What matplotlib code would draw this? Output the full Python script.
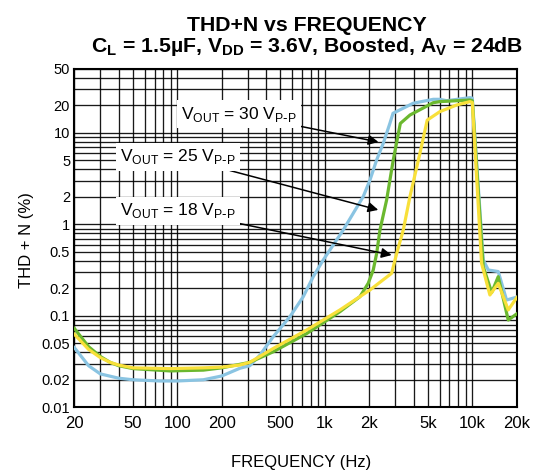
import numpy as np
import matplotlib
matplotlib.use("Agg")
from matplotlib import pyplot as plt
from matplotlib.ticker import FixedLocator, NullFormatter, LogLocator

plt.rcParams['font.family'] = ['Liberation Sans', 'DejaVu Sans']

# frequency (Hz) / THD+N (%)
freq_30 = [20, 25, 30, 40, 50, 76, 100, 150, 200, 265, 310, 363, 447, 580, 714, 834, 975,
           1333, 1820, 2024, 2245, 2490, 2760, 2900, 3970, 5430, 6030, 6700, 9640, 10000,
           11860, 12830, 14990, 17070, 20000]
thd_30 = [0.045, 0.0285, 0.0232, 0.0208, 0.020, 0.0194, 0.0194, 0.020, 0.022, 0.0267, 0.0285,
          0.0373, 0.0592, 0.098, 0.162, 0.268, 0.408, 0.868, 2.01, 3.06, 5.06, 7.7, 12.7,
          16.4, 21.1, 23.3, 23.3, 22.5, 24.3, 24.0, 0.41, 0.317, 0.305, 0.149, 0.16]

freq_25 = [20, 25, 30, 35, 40, 50, 89, 150, 200, 265, 310, 447, 753, 1265, 1730, 1969, 2129,
           2245, 2365, 2624, 2910, 3250, 3780, 5430, 6030, 9640, 10000, 11860, 13530,
           14990, 17520, 20000]
thd_25 = [0.073, 0.046, 0.036, 0.031, 0.0285, 0.0265, 0.025, 0.0255, 0.027, 0.0295, 0.031,
          0.0405, 0.064, 0.111, 0.162, 0.227, 0.317, 0.48, 0.87, 1.85, 5.06, 12.7, 15.7,
          21.4, 22.0, 22.9, 22.5, 0.345, 0.18, 0.268, 0.09, 0.105]

freq_18 = [20, 25, 30, 35, 40, 50, 89, 150, 200, 265, 310, 447, 753, 1265, 2024, 2838, 3069,
           3404, 3776, 4413, 4946, 6030, 7830, 9640, 10000, 11560, 13160, 14990, 17520,
           20000]
thd_18 = [0.063, 0.043, 0.035, 0.031, 0.029, 0.027, 0.0265, 0.027, 0.0275, 0.029, 0.031,
          0.044, 0.07, 0.116, 0.192, 0.292, 0.48, 0.87, 2.01, 5.98, 13.8, 17.1, 20.2,
          22.0, 21.5, 0.375, 0.169, 0.227, 0.116, 0.158]

x_ticks = [20, 50, 100, 200, 500, 1000, 2000, 5000, 10000, 20000]
x_labels = ["20", "50", "100", "200", "500", "1k", "2k", "5k", "10k", "20k"]
y_ticks = [0.01, 0.02, 0.05, 0.1, 0.2, 0.5, 1, 2, 5, 10, 20, 50]
y_labels = ["0.01", "0.02", "0.05", "0.1", "0.2", "0.5", "1", "2", "5", "10", "20", "50"]

fig = plt.figure(figsize=(5.36, 4.70), dpi=100)
ax = fig.add_axes([0.1386, 0.1334, 0.8254, 0.7198])

ax.plot(freq_30, thd_30, color="#8AC4E2", lw=2.3, zorder=3)
ax.plot(freq_25, thd_25, color="#6BB82F", lw=2.3, zorder=4)
ax.plot(freq_18, thd_18, color="#F8E03A", lw=2.3, zorder=5)

ax.set_xscale("log")
ax.set_yscale("log")
ax.set_xlim(20, 20000)
ax.set_ylim(0.01, 50)

ax.xaxis.set_major_locator(FixedLocator(x_ticks))
ax.xaxis.set_ticklabels(x_labels)
ax.yaxis.set_major_locator(FixedLocator(y_ticks))
ax.yaxis.set_ticklabels(y_labels)
ax.xaxis.set_minor_locator(LogLocator(base=10, subs=np.arange(2, 10)))
ax.yaxis.set_minor_locator(LogLocator(base=10, subs=np.arange(1, 10)))
ax.xaxis.set_minor_formatter(NullFormatter())
ax.yaxis.set_minor_formatter(NullFormatter())

ax.grid(True, which="both", color="black", lw=0.95, alpha=0.9)
ax.tick_params(which="both", length=0)
ax.tick_params(axis="x", labelsize=12, pad=6)
ax.tick_params(axis="y", labelsize=10.5, pad=3)
for s in ax.spines.values():
    s.set_linewidth(1.5)

fig.text(0.573, 1 - 30.7 / 470, "THD+N vs FREQUENCY", ha="center", va="baseline",
         fontsize=15.3, fontweight="bold")
fig.text(0.573, 1 - 51.7 / 470,
         r"C$_\mathregular{L}$ = 1.5µF, V$_\mathregular{DD}$ = 3.6V, Boosted, A$_\mathregular{V}$ = 24dB",
         ha="center", va="baseline", fontsize=15.3, fontweight="bold")

fig.text(300.8 / 536, 2.5 / 470, "FREQUENCY (Hz)", ha="center", va="baseline", fontsize=12)
fig.text(26.3 / 536, 1 - 240 / 470, "THD + N (%)", ha="center", va="center",
         rotation=90, fontsize=12)

sub_pp = r"V$_{\mathregular{P}\text{-}\mathregular{P}}$"
box = dict(boxstyle="square,pad=0.25", fc="white", ec="none")
arrow = dict(arrowstyle="-|>", color="black", lw=1.1, mutation_scale=15, shrinkA=0, shrinkB=0)
ax.annotate(r"V$_\mathregular{OUT}$ = 30 " + sub_pp, xy=(2309, 7.96), xytext=(262, 16.1),
            ha="center", va="center", fontsize=12.5, bbox=box, arrowprops=arrow, zorder=6)
ax.annotate(r"V$_\mathregular{OUT}$ = 25 " + sub_pp, xy=(2302, 1.44), xytext=(100.6, 5.5),
            ha="center", va="center", fontsize=12.5, bbox=box, arrowprops=arrow, zorder=6)
ax.annotate(r"V$_\mathregular{OUT}$ = 18 " + sub_pp, xy=(2837, 0.462), xytext=(100.6, 1.41),
            ha="center", va="center", fontsize=12.5, bbox=box, arrowprops=arrow, zorder=6)

fig.savefig("out.png", dpi=100)
